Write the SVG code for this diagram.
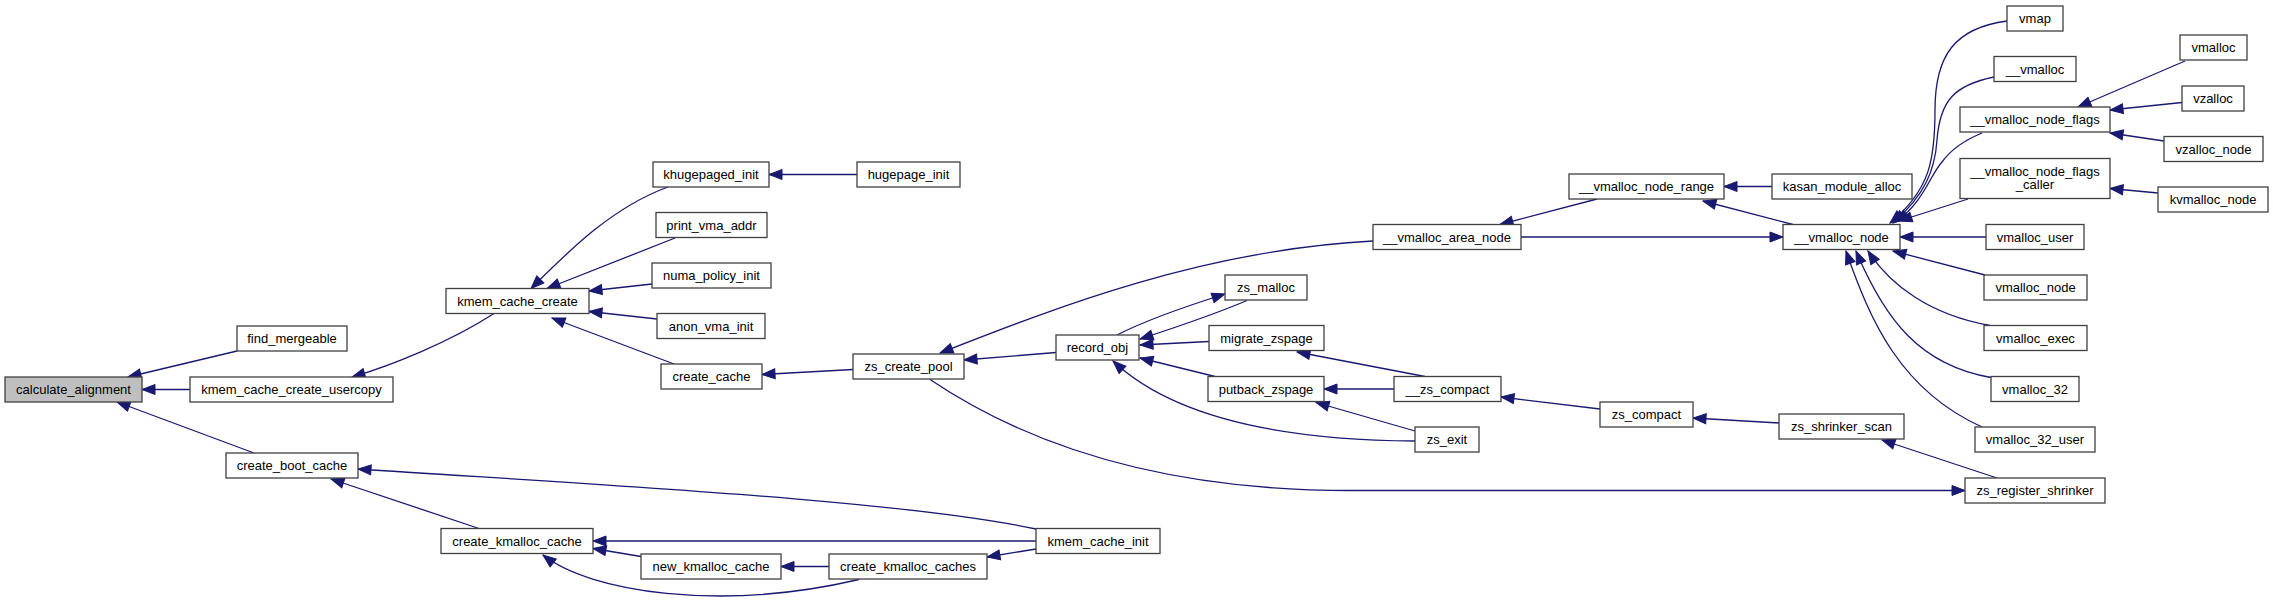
<svg xmlns="http://www.w3.org/2000/svg" width="2273" height="604" viewBox="0 0 2273 604">
<style>
.n rect{fill:#ffffff;stroke:#404040;stroke-width:1.3}
.n.root rect{fill:#bfbfbf}
.n text{font-family:"Liberation Sans",Arial,Helvetica,sans-serif;font-size:13px;fill:#000;text-anchor:middle}
.e path{fill:none;stroke:#191970;stroke-width:1.3;marker-end:url(#arr)}
</style>
<defs>
<marker id="arr" markerUnits="userSpaceOnUse" markerWidth="14" markerHeight="11" refX="13" refY="5" orient="auto" overflow="visible">
<path d="M0,0 L13,5 L0,10 z" fill="#191970" stroke="#191970" stroke-width="1"/>
</marker>
</defs>
<rect width="2273" height="604" fill="#ffffff"/>
<g id="edges" class="e">
<path d="M237,351 L128,377"/>
<path d="M190,389.5 L142,389.5"/>
<path d="M254,453 L117,402"/>
<path d="M494,313.5 C450,342 390,366 352,377"/>
<path d="M479,528.5 L331,479"/>
<path d="M1036,529 C900,500 600,485 358,469"/>
<path d="M1036,541 L593,541"/>
<path d="M641,556.5 L593,548.5"/>
<path d="M859,579.5 C720,612 590,592 543,555"/>
<path d="M829,566.5 L781,566.5"/>
<path d="M1036,549 L987,557"/>
<path d="M668,187 C610,208 565,255 531,288.5"/>
<path d="M675,238 L547,288.5"/>
<path d="M652,284 L589,291"/>
<path d="M657,319 L589,311.5"/>
<path d="M674,364 L552,318"/>
<path d="M857,174.5 L769,174.5"/>
<path d="M853,369.5 L762,374.5"/>
<path d="M1056,352.5 L964,360"/>
<path d="M1373,241 C1200,250 1050,310 940,353"/>
<path d="M930,379.5 C1020,440 1150,490.5 1350,490.5 L1965,490.5"/>
<path d="M1117,335 C1150,318 1190,305 1225,294"/>
<path d="M1247,300.5 C1220,312 1180,326 1140,339"/>
<path d="M1209,341.5 L1140,345"/>
<path d="M1215,376.5 L1140,358"/>
<path d="M1415,441 C1260,440 1165,410 1113,361"/>
<path d="M1425,376.5 L1297,352"/>
<path d="M1394,389 L1324,389"/>
<path d="M1415,431 L1316,402.5"/>
<path d="M1600,409 L1501,397"/>
<path d="M1779,423 L1693,418"/>
<path d="M1997,478 L1882,440"/>
<path d="M1597,199 L1500,224.5"/>
<path d="M1521,237 L1783,237"/>
<path d="M1772,186.5 L1724,186.5"/>
<path d="M1793,224.5 L1703,201"/>
<path d="M2007,21 C1955,28 1935,55 1935,110 C1935,160 1930,190 1890,223"/>
<path d="M1994,77 C1955,85 1940,100 1937,140 C1935,170 1925,195 1893,223"/>
<path d="M1982,133 C1965,140 1952,148 1942,162 C1930,175 1925,200 1896,222"/>
<path d="M1968,199 L1899,221"/>
<path d="M1986,237 L1900,237"/>
<path d="M1985,275 L1893,251"/>
<path d="M1990,325.5 C1930,315 1890,285 1868,251"/>
<path d="M1991,377.5 C1920,365 1885,320 1856,251"/>
<path d="M1982,427 C1900,390 1870,320 1846,251"/>
<path d="M2185,61 L2078,107"/>
<path d="M2182,102.5 L2110,110"/>
<path d="M2164,141 L2110,133"/>
<path d="M2158,193 L2110,188.5"/>
</g>
<g id="calculate_alignment" class="n root"><rect x="5" y="377" width="137" height="25"/><text x="73.5" y="394">calculate_alignment</text></g>
<g id="find_mergeable" class="n"><rect x="237" y="326" width="110" height="25"/><text x="292" y="343">find_mergeable</text></g>
<g id="kmem_cache_create_usercopy" class="n"><rect x="190" y="377" width="203" height="25"/><text x="291.5" y="394">kmem_cache_create_usercopy</text></g>
<g id="create_boot_cache" class="n"><rect x="226" y="453" width="132" height="25"/><text x="292" y="470">create_boot_cache</text></g>
<g id="kmem_cache_create" class="n"><rect x="446" y="288.5" width="143" height="25"/><text x="517.5" y="305.5">kmem_cache_create</text></g>
<g id="khugepaged_init" class="n"><rect x="653" y="162" width="116" height="25"/><text x="711" y="179">khugepaged_init</text></g>
<g id="print_vma_addr" class="n"><rect x="656" y="212.5" width="111" height="25"/><text x="711.5" y="229.5">print_vma_addr</text></g>
<g id="numa_policy_init" class="n"><rect x="652" y="263" width="119" height="25"/><text x="711.5" y="280">numa_policy_init</text></g>
<g id="anon_vma_init" class="n"><rect x="657" y="313.5" width="108" height="25"/><text x="711" y="330.5">anon_vma_init</text></g>
<g id="create_cache" class="n"><rect x="661" y="364" width="101" height="25"/><text x="711.5" y="381">create_cache</text></g>
<g id="hugepage_init" class="n"><rect x="857" y="162" width="103" height="25"/><text x="908.5" y="179">hugepage_init</text></g>
<g id="create_kmalloc_cache" class="n"><rect x="441" y="528.5" width="152" height="25"/><text x="517" y="545.5">create_kmalloc_cache</text></g>
<g id="new_kmalloc_cache" class="n"><rect x="641" y="554" width="140" height="25"/><text x="711" y="571">new_kmalloc_cache</text></g>
<g id="create_kmalloc_caches" class="n"><rect x="829" y="554" width="158" height="25"/><text x="908" y="571">create_kmalloc_caches</text></g>
<g id="kmem_cache_init" class="n"><rect x="1036" y="528.5" width="124" height="25"/><text x="1098" y="545.5">kmem_cache_init</text></g>
<g id="zs_create_pool" class="n"><rect x="853" y="354" width="111" height="25"/><text x="908.5" y="371">zs_create_pool</text></g>
<g id="record_obj" class="n"><rect x="1056" y="335" width="83" height="25"/><text x="1097.5" y="352">record_obj</text></g>
<g id="zs_malloc" class="n"><rect x="1225" y="275" width="82" height="25"/><text x="1266" y="292">zs_malloc</text></g>
<g id="migrate_zspage" class="n"><rect x="1209" y="325.5" width="115" height="25"/><text x="1266.5" y="342.5">migrate_zspage</text></g>
<g id="putback_zspage" class="n"><rect x="1208" y="376.5" width="116" height="25"/><text x="1266" y="393.5">putback_zspage</text></g>
<g id="__vmalloc_area_node" class="n"><rect x="1373" y="224.5" width="148" height="25"/><text x="1447" y="241.5">__vmalloc_area_node</text></g>
<g id="__zs_compact" class="n"><rect x="1394" y="376.5" width="107" height="25"/><text x="1447.5" y="393.5">__zs_compact</text></g>
<g id="zs_exit" class="n"><rect x="1415" y="427" width="64" height="25"/><text x="1447" y="444">zs_exit</text></g>
<g id="zs_compact" class="n"><rect x="1600" y="402" width="93" height="25"/><text x="1646.5" y="419">zs_compact</text></g>
<g id="zs_shrinker_scan" class="n"><rect x="1779" y="414" width="125" height="25"/><text x="1841.5" y="431">zs_shrinker_scan</text></g>
<g id="zs_register_shrinker" class="n"><rect x="1965" y="478" width="140" height="25"/><text x="2035" y="495">zs_register_shrinker</text></g>
<g id="__vmalloc_node_range" class="n"><rect x="1569" y="174" width="155" height="25"/><text x="1646.5" y="191">__vmalloc_node_range</text></g>
<g id="kasan_module_alloc" class="n"><rect x="1772" y="174" width="140" height="25"/><text x="1842" y="191">kasan_module_alloc</text></g>
<g id="__vmalloc_node" class="n"><rect x="1783" y="224.5" width="117" height="25"/><text x="1841.5" y="241.5">__vmalloc_node</text></g>
<g id="vmap" class="n"><rect x="2007" y="6" width="56" height="25"/><text x="2035" y="23">vmap</text></g>
<g id="__vmalloc" class="n"><rect x="1994" y="56.5" width="82" height="25"/><text x="2035" y="73.5">__vmalloc</text></g>
<g id="__vmalloc_node_flags" class="n"><rect x="1960" y="107" width="150" height="25"/><text x="2035" y="124">__vmalloc_node_flags</text></g>
<g id="__vmalloc_node_flags_caller" class="n"><rect x="1960" y="158.5" width="150" height="40"/><text x="2035" y="175.5">__vmalloc_node_flags</text><text x="2035" y="189">_caller</text></g>
<g id="vmalloc_user" class="n"><rect x="1986" y="224.5" width="98" height="25"/><text x="2035" y="241.5">vmalloc_user</text></g>
<g id="vmalloc_node" class="n"><rect x="1984" y="275" width="103" height="25"/><text x="2035.5" y="292">vmalloc_node</text></g>
<g id="vmalloc_exec" class="n"><rect x="1984" y="325.5" width="103" height="25"/><text x="2035.5" y="342.5">vmalloc_exec</text></g>
<g id="vmalloc_32" class="n"><rect x="1991" y="376.5" width="88" height="25"/><text x="2035" y="393.5">vmalloc_32</text></g>
<g id="vmalloc_32_user" class="n"><rect x="1975" y="427" width="120" height="25"/><text x="2035" y="444">vmalloc_32_user</text></g>
<g id="vmalloc" class="n"><rect x="2180" y="35" width="67" height="25"/><text x="2213.5" y="52">vmalloc</text></g>
<g id="vzalloc" class="n"><rect x="2182" y="86" width="62" height="25"/><text x="2213" y="103">vzalloc</text></g>
<g id="vzalloc_node" class="n"><rect x="2164" y="136.5" width="99" height="25"/><text x="2213.5" y="153.5">vzalloc_node</text></g>
<g id="kvmalloc_node" class="n"><rect x="2158" y="187" width="110" height="25"/><text x="2213" y="204">kvmalloc_node</text></g>
</svg>
